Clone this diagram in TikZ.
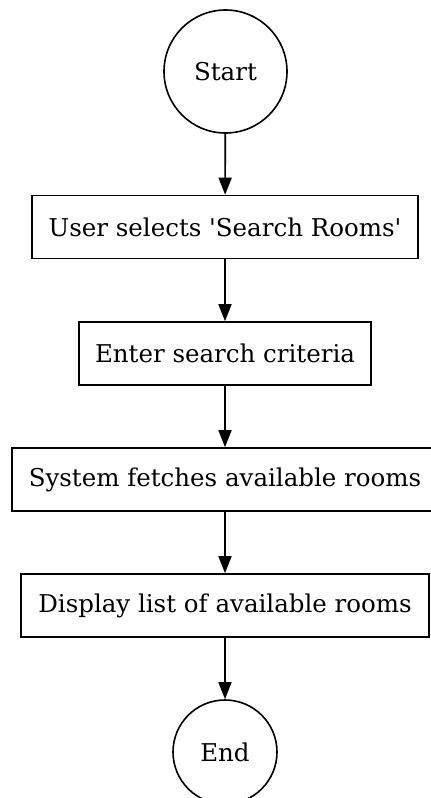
\documentclass[tikz,border=0pt]{standalone}
\usepackage{fontspec}
\setmainfont{DejaVu Serif}
\usetikzlibrary{arrows.meta}
\begin{document}
\begin{tikzpicture}[x=1pt,y=-1pt,
  every node/.style={font=\fontsize{24.5}{29}\selectfont, text=black, inner sep=0pt},
  term/.style={draw, circle, line width=1.6pt},
  stepbox/.style={draw, rectangle, line width=1.6pt, minimum height=63pt},
  flow/.style={line width=1.6pt, -{Triangle[length=17pt,width=13pt]}}]
  \useasboundingbox (0,0) rectangle (431,798);
  \node[term, minimum size=123pt] (start) at (225.5,71.5) {Start};
  \node[stepbox, minimum width=386pt] (sel) at (225,227) {User selects \textquotesingle Search Rooms\textquotesingle};
  \node[stepbox, minimum width=292pt] (crit) at (225,353.5) {Enter search criteria};
  \node[stepbox, minimum width=426pt] (fetch) at (225,479.5) {System fetches available rooms};
  \node[stepbox, minimum width=408pt] (disp) at (225,605.5) {Display list of available rooms};
  \node[term, minimum size=104pt] (end) at (225,752) {End};
  \draw[flow] (start) -- (sel);
  \draw[flow] (sel) -- (crit);
  \draw[flow] (crit) -- (fetch);
  \draw[flow] (fetch) -- (disp);
  \draw[flow] (disp) -- (end);
\end{tikzpicture}
\end{document}
